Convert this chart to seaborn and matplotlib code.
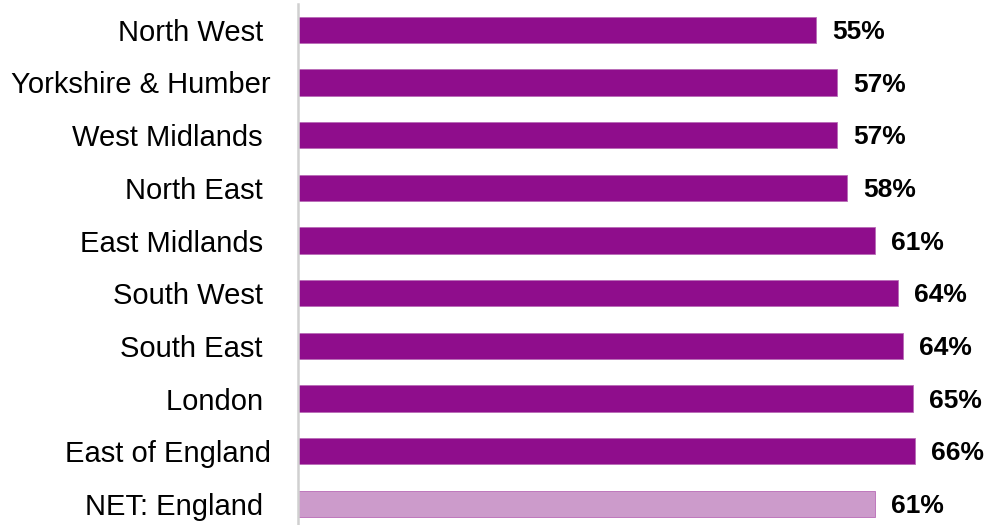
import matplotlib
matplotlib.use("Agg")
import matplotlib.pyplot as plt
import seaborn as sns
import pandas as pd

# Data
regions = ["North West ", "Yorkshire & Humber", "West Midlands ", "North East ",
           "East Midlands ", "South West ", "South East ", "London ",
           "East of England", "NET: England "]
values = [55.1, 57.4, 57.4, 58.4, 61.4, 63.9, 64.4, 65.4, 65.7, 61.4]
bar_colors = ["#8F0D8C"] * 9 + ["#CC9BCB"]

sns.set_theme(style="white")
plt.rcParams["font.family"] = ["Liberation Sans", "DejaVu Sans"]

df = pd.DataFrame({"region": regions, "value": values})

fig = plt.figure(figsize=(9.84, 5.25), dpi=100)
ax = fig.add_axes([298 / 984, 0, 686 / 984, 521 / 525])

sns.barplot(data=df, x="value", y="region", hue="region", palette=bar_colors,
            legend=False, width=0.5, saturation=1, ax=ax,
            edgecolor="#B86BB6", linewidth=0.6)

# value labels
for i, v in enumerate(values):
    ax.text(v + 1.7, i + 0.04, f"{round(v)}%", va="center", ha="left",
            fontsize=19, fontweight="bold", color="black")

ax.set_xlim(0, 73)
ax.set_ylim(9.4, -0.49)
ax.set_xlabel("")
ax.set_ylabel("")
ax.set_xticks([])
ax.tick_params(axis="y", length=0, pad=19.5, labelsize=21, labelcolor="black")

for side in ["top", "right", "bottom"]:
    ax.spines[side].set_visible(False)
ax.spines["left"].set_color("#D0D0D0")
ax.spines["left"].set_linewidth(1.8)

fig.savefig("out.png", dpi=100)
